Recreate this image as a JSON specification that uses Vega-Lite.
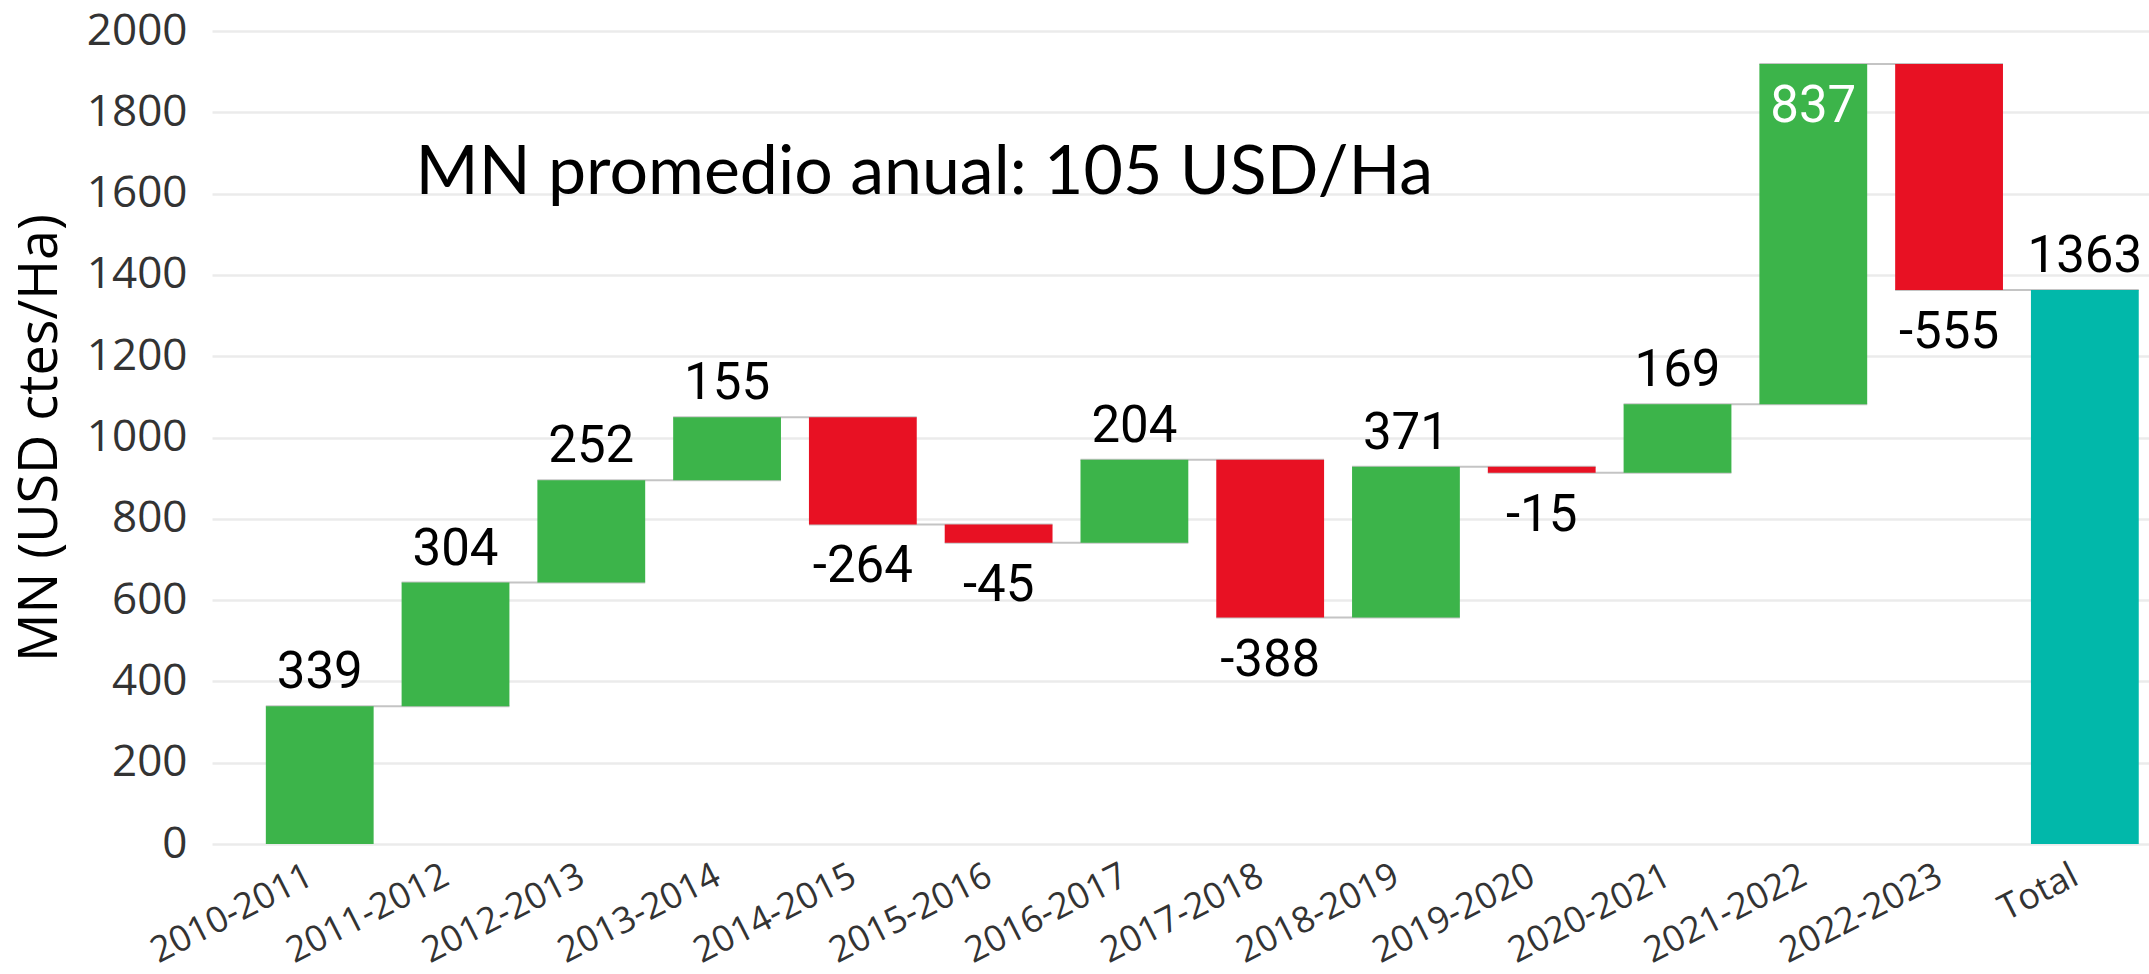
{
  "$schema": "https://vega.github.io/schema/vega-lite/v6.json",
  "width": 1937,
  "height": 813,
  "autosize": {"type": "none"},
  "padding": {"left": 212, "top": 31, "right": 0, "bottom": 130},
  "background": "white",
  "config": {"view": {"stroke": null}},
  "data": {
    "values": [
      {"cat": "2010-2011", "start": 0, "end": 339, "value": 339, "type": "up", "next": "2011-2012"},
      {"cat": "2011-2012", "start": 339, "end": 643, "value": 304, "type": "up", "next": "2012-2013"},
      {"cat": "2012-2013", "start": 643, "end": 895, "value": 252, "type": "up", "next": "2013-2014"},
      {"cat": "2013-2014", "start": 895, "end": 1050, "value": 155, "type": "up", "next": "2014-2015"},
      {"cat": "2014-2015", "start": 1050, "end": 786, "value": -264, "type": "down", "next": "2015-2016"},
      {"cat": "2015-2016", "start": 786, "end": 741, "value": -45, "type": "down", "next": "2016-2017"},
      {"cat": "2016-2017", "start": 741, "end": 945, "value": 204, "type": "up", "next": "2017-2018"},
      {"cat": "2017-2018", "start": 945, "end": 557, "value": -388, "type": "down", "next": "2018-2019"},
      {"cat": "2018-2019", "start": 557, "end": 928, "value": 371, "type": "up", "next": "2019-2020"},
      {"cat": "2019-2020", "start": 928, "end": 913, "value": -15, "type": "down", "next": "2020-2021"},
      {"cat": "2020-2021", "start": 913, "end": 1082, "value": 169, "type": "up", "next": "2021-2022"},
      {"cat": "2021-2022", "start": 1082, "end": 1919, "value": 837, "type": "up", "next": "2022-2023"},
      {"cat": "2022-2023", "start": 1919, "end": 1363, "value": -555, "type": "down", "next": "Total"},
      {"cat": "Total", "start": 0, "end": 1363, "value": 1363, "type": "total", "next": null}
    ]
  },
  "layer": [
    {
      "transform": [{"filter": "datum.next != null"}],
      "mark": {"type": "rule", "color": "#c4c4c4", "strokeWidth": 2},
      "encoding": {
        "x": {"field": "cat", "type": "nominal", "bandPosition": 0, "title": null},
        "x2": {"field": "next", "bandPosition": 1},
        "y": {"field": "end", "type": "quantitative", "title": "MN (USD ctes/Ha)"}
      }
    },
    {
      "mark": {"type": "bar"},
      "encoding": {
        "x": {
          "field": "cat",
          "type": "nominal",
          "title": null,
          "scale": {
            "domain": ["2010-2011", "2011-2012", "2012-2013", "2013-2014", "2014-2015", "2015-2016", "2016-2017", "2017-2018", "2018-2019", "2019-2020", "2020-2021", "2021-2022", "2022-2023", "Total"],
            "paddingInner": 0.206,
            "paddingOuter": 0.236,
            "align": 0.84
          },
          "axis": {
            "domain": false,
            "ticks": false,
            "tickSize": 0,
            "grid": false,
            "labelAngle": -27,
            "labelAlign": "right",
            "labelBaseline": "top",
            "labelFont": "Open Sans",
            "labelFontSize": 36,
            "labelColor": "#333333",
            "labelPadding": 14,
            "labelOffset": -17,
            "labelOverlap": false
          }
        },
        "y": {
          "field": "start",
          "type": "quantitative",
          "title": "MN (USD ctes/Ha)",
          "scale": {"domain": [0, 2000], "nice": false},
          "axis": {
            "values": [0, 200, 400, 600, 800, 1000, 1200, 1400, 1600, 1800, 2000],
            "format": "d",
            "grid": true,
            "gridColor": "#ebebeb",
            "gridWidth": 2.5,
            "domain": false,
            "ticks": false,
            "tickSize": 0,
            "labelFont": "Open Sans",
            "labelFontSize": 44,
            "labelColor": "#333333",
            "labelPadding": 25,
            "titleFont": "Open Sans",
            "titleFontSize": 54,
            "titleFontWeight": "normal",
            "titleColor": "#000000",
            "titleAngle": -90,
            "titleBaseline": "middle",
            "titleX": -172
          }
        },
        "y2": {"field": "end"},
        "color": {
          "field": "type",
          "type": "nominal",
          "scale": {"domain": ["up", "down", "total"], "range": ["#3cb44a", "#e81123", "#01b8aa"]},
          "legend": null
        }
      }
    },
    {
      "transform": [{"filter": "datum.type != 'down' && datum.end <= 1800"}],
      "mark": {"type": "text", "font": "Roboto", "fontSize": 51, "baseline": "alphabetic", "align": "center", "dy": -18, "color": "#000000"},
      "encoding": {
        "x": {"field": "cat", "type": "nominal", "title": null},
        "y": {"field": "end", "type": "quantitative", "title": "MN (USD ctes/Ha)"},
        "text": {"field": "value", "type": "nominal"}
      }
    },
    {
      "transform": [{"filter": "datum.type == 'down' || datum.end > 1800"}],
      "mark": {"type": "text", "font": "Roboto", "fontSize": 51, "baseline": "top", "align": "center", "dy": 18},
      "encoding": {
        "x": {"field": "cat", "type": "nominal", "title": null},
        "y": {"field": "end", "type": "quantitative", "title": "MN (USD ctes/Ha)"},
        "text": {"field": "value", "type": "nominal"},
        "color": {"condition": {"test": "datum.type == 'up'", "value": "#ffffff"}, "value": "#000000"}
      }
    },
    {
      "data": {"values": [{"cat": "2014-2015", "y": 1600, "note": "MN promedio anual: 105 USD/Ha"}]},
      "mark": {"type": "text", "font": "Lato", "fontSize": 68, "align": "center", "baseline": "alphabetic", "color": "#000000"},
      "encoding": {
        "x": {"field": "cat", "type": "nominal", "bandPosition": 1.07, "title": null},
        "y": {"field": "y", "type": "quantitative", "title": "MN (USD ctes/Ha)"},
        "text": {"field": "note", "type": "nominal"}
      }
    }
  ]
}
